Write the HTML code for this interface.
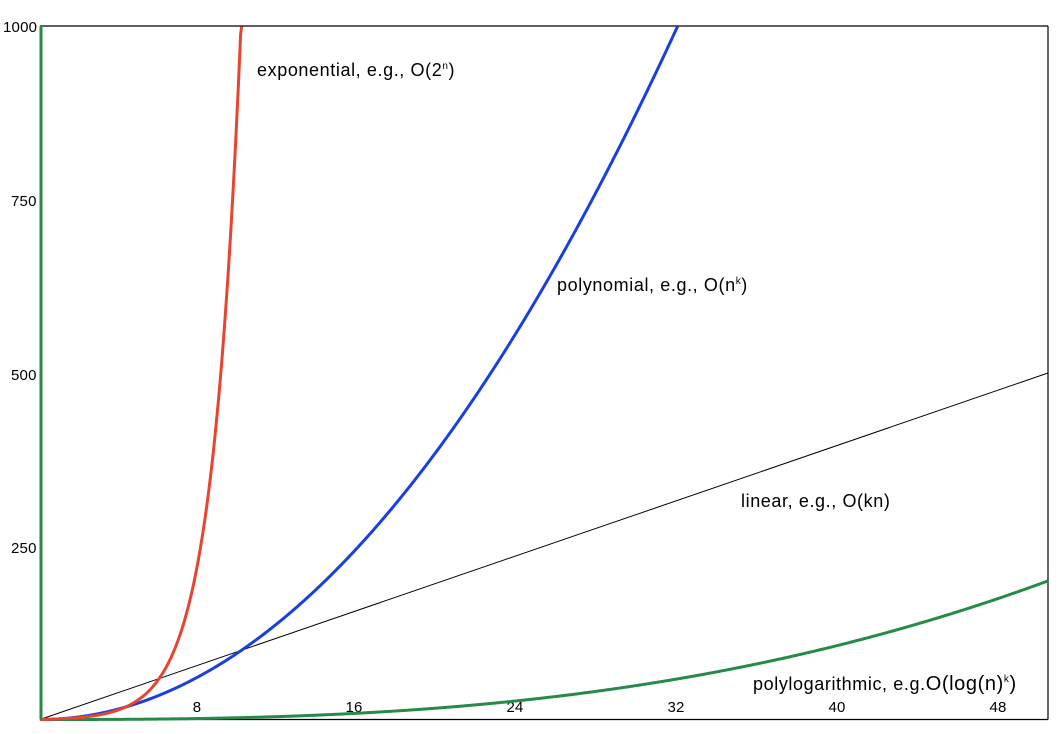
<!DOCTYPE html>
<html><head><meta charset="utf-8"><style>
html,body{margin:0;padding:0;background:#fff;}
svg{display:block;font-family:"Liberation Sans",sans-serif;}
</style></head><body>
<svg id="s" width="1058" height="734" xmlns="http://www.w3.org/2000/svg">
<rect x="0" y="0" width="1058" height="734" fill="#fff"/>
<line x1="40" y1="26" x2="1048" y2="26" stroke="#000" stroke-width="1.2"/>
<line x1="1048" y1="26" x2="1048" y2="719.5" stroke="#000" stroke-width="1.2"/>
<line x1="40" y1="719.5" x2="1048" y2="719.5" stroke="#000" stroke-width="1.2"/>
<g font-size="15" fill="#000" letter-spacing="0.2">
<text x="3" y="32">1000</text>
<text x="11" y="206">750</text>
<text x="11" y="380">500</text>
<text x="11" y="553">250</text>
<text x="197" y="712" text-anchor="middle">8</text>
<text x="354" y="712" text-anchor="middle">16</text>
<text x="515" y="712" text-anchor="middle">24</text>
<text x="676" y="712" text-anchor="middle">32</text>
<text x="837" y="712" text-anchor="middle">40</text>
<text x="998" y="712" text-anchor="middle">48</text>
</g>
<g font-size="18" fill="#000" letter-spacing="0.6">
<text x="257" y="76">exponential, e.g., O(2<tspan font-size="10" dy="-7">n</tspan><tspan dy="7">)</tspan></text>
<text x="557" y="291">polynomial, e.g., O(n<tspan font-size="10" dy="-7">k</tspan><tspan dy="7">)</tspan></text>
<text x="741" y="507">linear, e.g., O(kn)</text>
<text x="753" y="690">polylogarithmic, e.g.<tspan font-size="20">O(log(n)</tspan><tspan font-size="10" dy="-8">k</tspan><tspan font-size="20" dy="8">)</tspan></text>
</g>
<line x1="40" y1="719.5" x2="1048" y2="373" stroke="#000" stroke-width="1"/>
<path id="g" fill="none" stroke="#268a48" stroke-width="3"/>
<path id="b" fill="none" stroke="#1a3fe0" stroke-width="3"/>
<path id="r" fill="none" stroke="#e8442f" stroke-width="3"/>
<line x1="41" y1="26" x2="41" y2="719.5" stroke="#268a48" stroke-width="3"/>
</svg>
<script>
function X(n){return 40+n*20.16;}function Y(v){return 719.5-v*0.693;}
function mk(f,max){var d="";for(var n=0;n<=max+1e-9;n+=0.05){var v=f(n);if(v>1000){d+="L"+X(n).toFixed(2)+","+Y(1000).toFixed(2);break;}d+=(d?"L":"M")+X(n).toFixed(2)+","+Y(v).toFixed(2);}return d;}
document.getElementById("r").setAttribute("d",mk(function(n){return Math.pow(2,n)-1;},50));
document.getElementById("b").setAttribute("d",mk(function(n){return n*n;},50));
document.getElementById("g").setAttribute("d",mk(function(n){return 200*Math.pow(n/50,2.68);},50));
</script>
</body></html>
